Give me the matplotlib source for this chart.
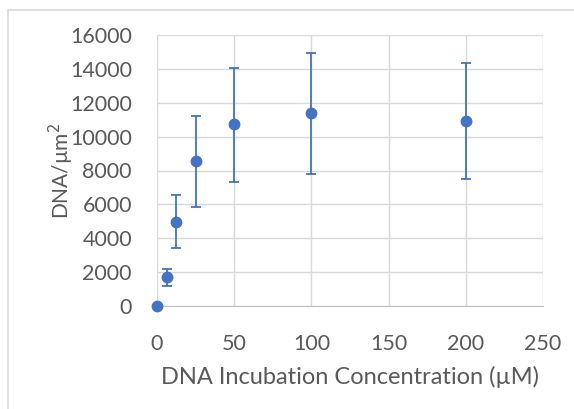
import matplotlib.pyplot as plt
from matplotlib.patches import Rectangle

plt.rcParams['font.family'] = ['Lato', 'DejaVu Sans']

# DNA surface density vs incubation concentration
conc = [0, 6.25, 12.5, 25, 50, 100, 200]
density = [0, 1700, 4980, 8580, 10720, 11400, 10910]
err_low = [0, 1180, 3400, 5840, 7340, 7790, 7490]
err_high = [0, 2200, 6550, 11230, 14080, 14950, 14320]

x_ticks = [0, 50, 100, 150, 200, 250]
y_ticks = [0, 2000, 4000, 6000, 8000, 10000, 12000, 14000, 16000]

blue = '#4472C4'
grid = '#D9D9D9'
text_col = '#595959'

fig = plt.figure(figsize=(5.74, 4.09), dpi=100)
ax = fig.add_axes([157 / 574, 1 - 306 / 409, 386 / 574, 271 / 409])

# outer chart frame, cut off at right and bottom
fig.add_artist(Rectangle((8 / 574, -0.1), 1.2, 1.1 - 10 / 409,
                         transform=fig.transFigure, fill=False,
                         edgecolor=grid, linewidth=1.2))

lo = [d - l for d, l in zip(density, err_low)]
hi = [h - d for d, h in zip(density, err_high)]
ax.errorbar(conc, density, yerr=[lo, hi], fmt='o', color=blue, ecolor=blue,
            markersize=7.5, elinewidth=1.3, capsize=3.3, capthick=1.3,
            zorder=3, clip_on=False)

ax.set_xlim(0, 250)
ax.set_ylim(0, 16000)
ax.set_xticks(x_ticks)
ax.set_yticks(y_ticks)
ax.grid(True, color=grid, linewidth=1)
ax.set_axisbelow(True)
for s in ['top', 'right', 'left']:
    ax.spines[s].set_visible(False)
ax.spines['bottom'].set_color('#BFBFBF')
ax.tick_params(length=0, labelsize=15.5, labelcolor=text_col)
ax.tick_params(axis='x', pad=20)
ax.tick_params(axis='y', pad=18)

ax.set_xlabel('DNA Incubation Concentration (µM)', fontsize=17,
              color=text_col)
ax.set_ylabel('DNA/µm$^2$', fontsize=15, color=text_col)
ax.xaxis.set_label_coords(0.5, -0.222)
ax.yaxis.set_label_coords(-0.21, 0.5)

fig.savefig('out.png', dpi=100)
